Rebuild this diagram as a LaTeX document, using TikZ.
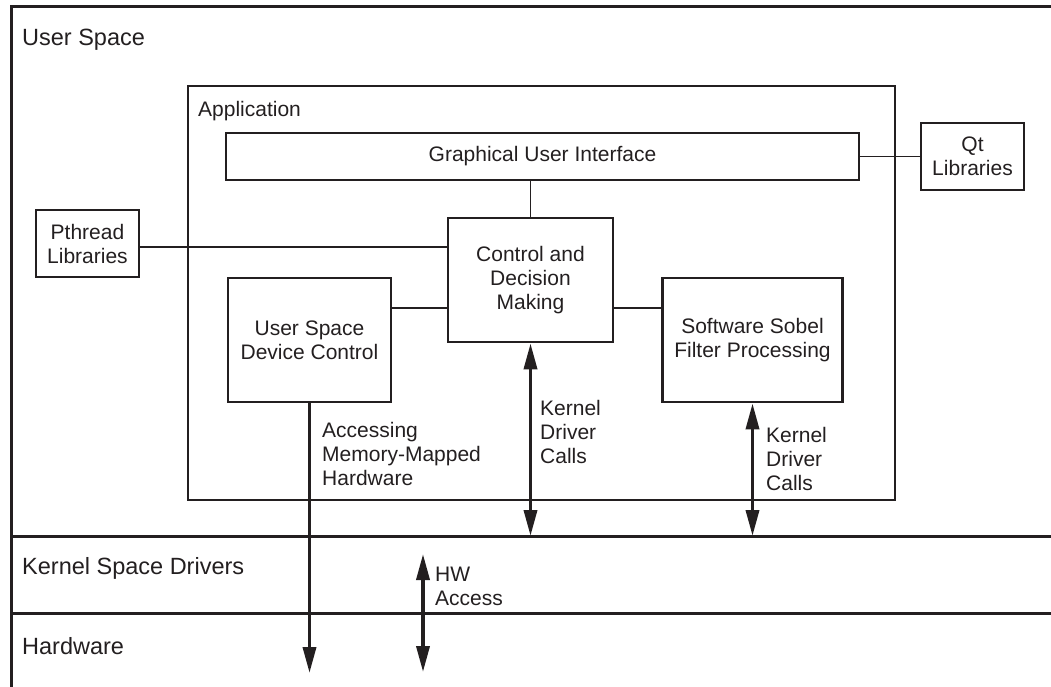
\documentclass[tikz,border=0pt]{standalone}
\usepackage{fontspec}
\setmainfont{Liberation Sans}
\usetikzlibrary{arrows.meta}
\definecolor{ink}{HTML}{231F20}
\tikzset{
  frameline/.style={draw=ink, line width=3bp},
  box/.style={draw=ink, line width=2.7bp, align=center, inner sep=0pt,
    font=\fontsize{21bp}{24bp}\selectfont, text=ink},
  link/.style={draw=ink, line width=1.5bp},
  label/.style={anchor=north west, inner sep=0pt, align=left, text=ink,
    font=\fontsize{21bp}{24bp}\selectfont},
  title/.style={anchor=north west, inner sep=0pt, text=ink,
    font=\fontsize{23.5bp}{27bp}\selectfont},
  bigarrow/.style={draw=ink, line width=3.6bp,
    {Triangle[length=26bp,width=13bp]}-{Triangle[length=26bp,width=13bp]}},
  downarrow/.style={draw=ink, line width=3.6bp,
    -{Triangle[length=26bp,width=13bp]}},
}
\begin{document}
\begin{tikzpicture}[x=1bp,y=-1bp]
\useasboundingbox (0,0) rectangle (1051,687);

% layer frame and separators
\coordinate (tl) at (11,7);
\coordinate (tr) at (1051,7);
\coordinate (bl) at (11,687);
\coordinate (kl) at (11,536);
\coordinate (kr) at (1051,536);
\coordinate (hl) at (11,613);
\coordinate (hr) at (1051,613);
\draw[frameline] (bl) -- (tl) -- (tr);
\draw[frameline] (kl) -- (kr);
\draw[frameline] (hl) -- (hr);

% layer titles
\node[title] (us) at (22,29) {User Space};
\node[title] (ksd) at (22,557) {Kernel Space Drivers};
\node[title] (hw) at (22,637) {Hardware};

% application container
\node[box, minimum width=707bp, minimum height=414bp] (app) at (541.5,293) {};
\node[label] (applbl) at (198,101) {Application};

% components
\node[box, minimum width=633bp, minimum height=47bp] (gui) at (542.5,156.5) {Graphical User Interface};
\node[box, minimum width=103bp, minimum height=67bp] (qt) at (972.5,156.5) {Qt\\Libraries};
\node[box, minimum width=103bp, minimum height=67bp] (pth) at (87.5,243.5) {Pthread\\Libraries};
\node[box, minimum width=165bp, minimum height=124bp] (ctrl) at (530.5,280) {Control and\\Decision\\Making};
\node[box, minimum width=163bp, minimum height=124bp] (usdc) at (309.5,340) {User Space\\Device Control};
\node[box, minimum width=180bp, minimum height=124bp] (sobel) at (752.5,340) {Software Sobel\\Filter Processing};

% plain connections
\draw[link] (gui.east) -- (qt.west);
\draw[link] ([yshift=-3.5bp]pth.east) -- ([yshift=-3.5bp]pth.east -| ctrl.west);
\draw[link] (ctrl.north) -- (ctrl.north |- gui.south);
\draw[link] ([yshift=-28bp]ctrl.west) -- ([yshift=-28bp]ctrl.west -| usdc.east);
\draw[link] ([yshift=-28bp]ctrl.east) -- ([yshift=-28bp]ctrl.east -| sobel.west);

% driver and hardware paths
\coordinate (memend) at (309.5,673);
\coordinate (hwa) at (423,554);
\coordinate (hwb) at (423,672);
\draw[bigarrow] (ctrl.south) -- (ctrl.south |- kl);
\draw[bigarrow] (sobel.south) -- (sobel.south |- kl);
\draw[downarrow] (usdc.south) -- (memend);
\draw[bigarrow] (hwa) -- (hwb);

% path labels
\node[label] (kdc1) at (540,400) {Kernel\\Driver\\Calls};
\node[label] (kdc2) at (766,427) {Kernel\\Driver\\Calls};
\node[label] (amm) at (322,422) {Accessing\\Memory-Mapped\\Hardware};
\node[label] (hwacc) at (435,567) {HW\\Access};
\end{tikzpicture}
\end{document}
